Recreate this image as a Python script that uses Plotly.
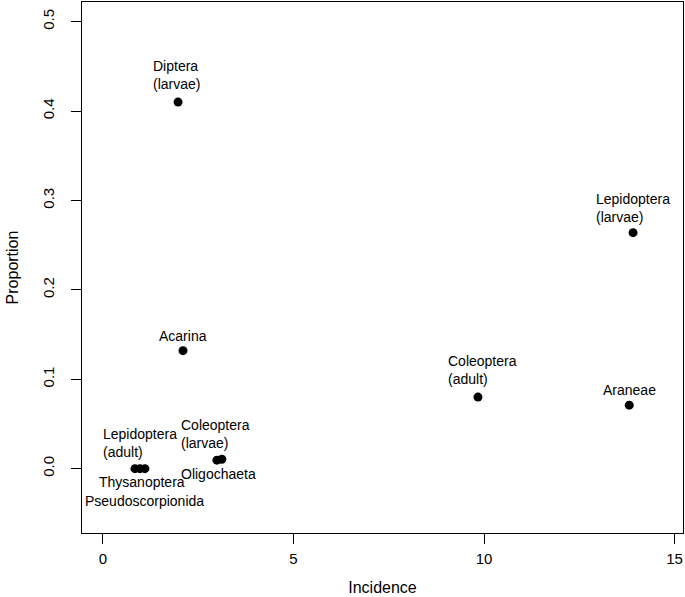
import plotly.graph_objects as go

taxa = ["Diptera<br>(larvae)", "Lepidoptera<br>(larvae)", "Acarina", "Coleoptera<br>(adult)",
        "Araneae", "Lepidoptera<br>(adult)", "Thysanoptera", "Pseudoscorpionida",
        "Coleoptera<br>(larvae)", "Oligochaeta"]
incidence = [1.97, 13.91, 2.10, 9.84, 13.81, 0.84, 0.97, 1.10, 2.99, 3.12]
proportion = [0.41, 0.264, 0.132, 0.080, 0.071, 0.0, 0.0, 0.0, 0.0095, 0.0105]

# label offsets (pixels) relative to each point
dx = [-2, 0, 0, 5, 0, 5, 2, 0, -1, -3]
dy = [15, 13, 12, 15, 12, 14, -10, -29, 14, -12]
yanch = ["bottom", "bottom", "bottom", "bottom", "bottom", "bottom", "top", "top", "bottom", "top"]

xticks = [0, 5, 10, 15]
yticks = [0.0, 0.1, 0.2, 0.3, 0.4, 0.5]

fig = go.Figure()
fig.add_trace(go.Scatter(x=incidence, y=proportion, mode="markers",
                         marker=dict(color="black", size=9), hoverinfo="skip"))

for t, x, y, ox, oy, ya in zip(taxa, incidence, proportion, dx, dy, yanch):
    fig.add_annotation(x=x, y=y, xref="x", yref="y", text=t, showarrow=False,
                       xshift=ox, yshift=(oy - 7) if ya == "bottom" else (oy + 7),
                       yanchor=ya, xanchor="center", align="left",
                       font=dict(size=14, color="black"))

font = "Liberation Sans, Arial, Helvetica, sans-serif"
fig.update_layout(
    width=685, height=597,
    margin=dict(l=82, r=2, t=2, b=64),
    paper_bgcolor="white", plot_bgcolor="white",
    showlegend=False,
    font=dict(family=font, color="black", size=15),
    xaxis=dict(range=[-0.55, 15.22], tickvals=xticks, ticktext=[str(v) for v in xticks],
               showgrid=False, zeroline=False, showline=True, mirror=True, automargin=False,
               linecolor="black", linewidth=1, ticks="outside", ticklen=10,
               tickcolor="black", tickfont=dict(size=15), ticklabelstandoff=2,
               title=dict(text="Incidence", font=dict(size=16), standoff=15)),
    yaxis=dict(range=[-0.072, 0.522], tickvals=yticks, ticktext=[f"{v:.1f}" for v in yticks],
               showgrid=False, zeroline=False, showline=True, mirror=True, automargin=False,
               linecolor="black", linewidth=1, ticks="outside", ticklen=10,
               tickcolor="black", tickangle=-90, tickfont=dict(size=15), ticklabelstandoff=11,
               title=dict(text="Proportion", font=dict(size=16), standoff=17)),
)

fig.write_html("out.html", config={"displayModeBar": False},
               post_script="document.body.style.margin='0';document.body.style.overflow='hidden';")
